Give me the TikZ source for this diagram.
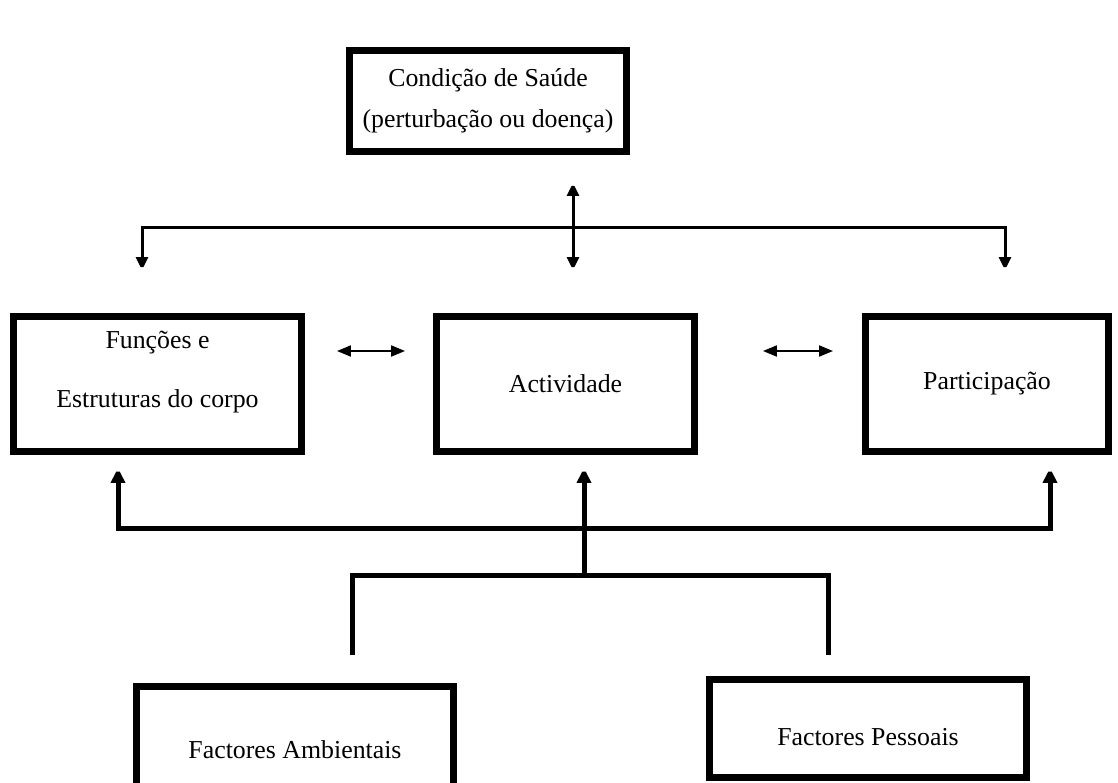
\documentclass[tikz,border=0pt]{standalone}
\usepackage{fontspec}
\setmainfont{Liberation Serif}
\usetikzlibrary{arrows.meta}

\begin{document}
\begin{tikzpicture}[
    x=0.02cm, y=-0.02cm,
    box/.style={rectangle, draw, line width=0.14cm, align=center, inner sep=0pt,
                font=\fontsize{14.7}{17.6}\selectfont},
    boxtext/.style={align=center, inner sep=0pt, font=\fontsize{14.7}{17.6}\selectfont},
    biarr/.style={line width=0.04cm, {Triangle[length=0.28cm, width=0.22cm]}-{Triangle[length=0.28cm, width=0.22cm]}},
    thinarr/.style={line width=0.06cm, miter limit=2, {Triangle[length=0.26cm, width=0.24cm]}-{Triangle[length=0.26cm, width=0.24cm]}},
    thickarr/.style={line width=0.1cm, miter limit=2, -{Triangle[length=0.3cm, width=0.28cm]}},
    thickln/.style={line width=0.1cm, miter limit=2}
]
    \path[use as bounding box, fill=white] (0,0) rectangle (1118,783);

    % Boxes
    \node[box, minimum width=5.54cm, minimum height=2.02cm] (saude) at (488,101)
        {Condição de Saúde\\[5.5pt](perturbação ou doença)};
    \node[box, minimum width=5.76cm, minimum height=2.7cm] (funcoes) at (157.5,384) {};
    \node[boxtext] (funcoestxt) at (157.5,372) {Funções e\\[15.5pt]Estruturas do corpo};
    \node[box, minimum width=5.16cm, minimum height=2.7cm] (activ) at (565.5,384) {Actividade};
    \node[box, minimum width=4.86cm, minimum height=2.7cm] (partic) at (987,384) {Participação};
    \node[box, minimum width=6.34cm, minimum height=2.54cm] (ambient) at (295,750) {Factores Ambientais};
    \node[box, minimum width=6.34cm, minimum height=1.96cm] (pessoal) at (868,728.5) {};
    \node[boxtext] (pessoaltxt) at (868,737) {Factores Pessoais};

    % Health condition to the three components
    \coordinate (hubtop) at (573,183);
    \coordinate (hubbot) at (573,270);
    \coordinate (hub) at (573,228);
    \coordinate (tl) at (142,270);
    \coordinate (tr) at (1005,270);
    \draw[thinarr] (hubtop) -- (hubbot);
    \draw[thinarr] (tl) -- (tl |- hub) -- (tr |- hub) -- (tr);

    % Links between components
    \draw[biarr] ([xshift=0.64cm, yshift=0.66cm]funcoes.east) -- ([xshift=-0.56cm, yshift=0.66cm]activ.west);
    \draw[biarr] ([xshift=1.3cm, yshift=0.66cm]activ.east) -- ([xshift=-0.58cm, yshift=0.66cm]partic.west);

    % Contextual factors up to the components
    \coordinate (bl) at (118,468);
    \coordinate (br) at (1050,468);
    \coordinate (bus) at (584,528);
    \coordinate (fork) at (584,575);
    \coordinate (fl) at (352,655);
    \coordinate (fr) at (828,655);
    \draw[thickarr, {Triangle[length=0.3cm, width=0.28cm]}-{Triangle[length=0.3cm, width=0.28cm]}]
        (bl) -- (bl |- bus) -- (br |- bus) -- (br);
    \draw[thickarr] (fork) -- (fork |- bl);
    \draw[thickln] (fl) -- (fl |- fork) -- (fr |- fork) -- (fr);

\end{tikzpicture}
\end{document}
